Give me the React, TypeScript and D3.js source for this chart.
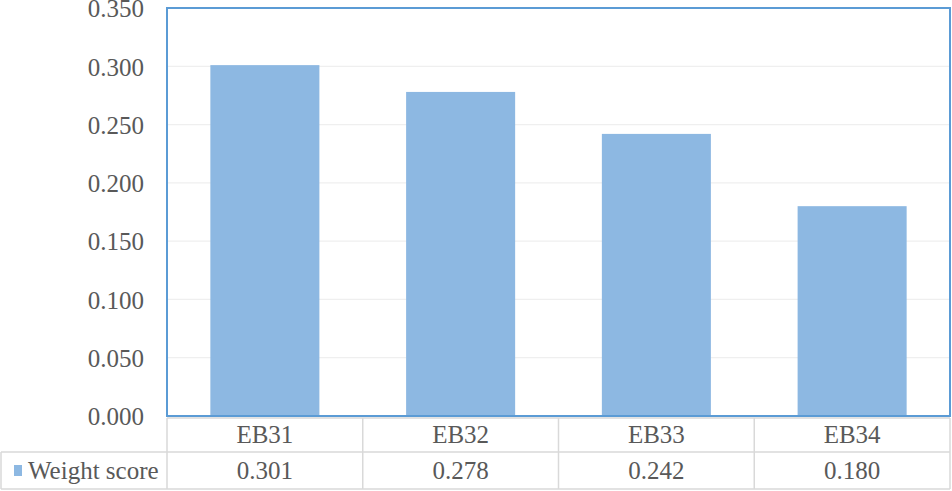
import React from 'react';
import * as d3 from 'd3';

const categories = ['EB31', 'EB32', 'EB33', 'EB34'];
const weightScore = [0.301, 0.278, 0.242, 0.18];
const yTicks = [0, 0.05, 0.1, 0.15, 0.2, 0.25, 0.3, 0.35];
const seriesName = 'Weight score';

const width = 952;
const height = 491;
const left = 167;
const right = 950;
const top = 8;
const bottom = 416;
const row1 = 418;
const row2 = 452;
const tableBottom = 489;
const serif = { fontFamily: "'Liberation Serif', 'Times New Roman', serif" };
const fontSize = 25;
const textColor = '#595959';
const lineColor = '#d9d9d9';
const barColor = '#8db8e2';
const fmt = d3.format('.3f');

const App = () => {
  const x = d3.scaleBand()
    .domain(categories)
    .range([left, right])
    .paddingInner(0.443)
    .paddingOuter(0.2215);

  // full-width bands for the data table cells
  const band = d3.scaleBand().domain(categories).range([left, right]);

  const y = d3.scaleLinear()
    .domain([0, 0.35])
    .range([bottom, top]);

  const cellCenter = (c: string) => (band(c) as number) + band.bandwidth() / 2;

  return (
    <svg width={width} height={height} style={{ position: 'absolute', left: 0, top: 0 }}>
      {/* gridlines */}
      {yTicks.slice(1).map(t => (
        <line key={t} x1={left} x2={right} y1={y(t)} y2={y(t)} stroke="#efefef" strokeWidth={1.3} />
      ))}

      {/* bars */}
      {weightScore.map((v, i) => (
        <rect key={categories[i]} x={x(categories[i])} width={x.bandwidth()} y={y(v)} height={bottom - y(v)} fill={barColor} />
      ))}

      {/* plot border */}
      <rect x={left} y={top} width={right - left} height={bottom - top} fill="none" stroke="#5b9bd5" strokeWidth={2} />

      {/* y tick labels */}
      {yTicks.map(t => (
        <text key={t} x={144} y={y(t)} dy="0.37em" textAnchor="end" fontSize={fontSize} fill={textColor} style={serif}>{fmt(t)}</text>
      ))}

      {/* data table grid */}
      <g stroke={lineColor} strokeWidth={1.5}>
        <line x1={left} x2={right} y1={row1} y2={row1} />
        <line x1={1} x2={right} y1={row2} y2={row2} />
        <line x1={1} x2={right} y1={tableBottom} y2={tableBottom} />
        <line x1={1} x2={1} y1={row2} y2={tableBottom} />
        {categories.concat(['end']).map((c, i) => (
          <line key={c} x1={left + i * band.bandwidth()} x2={left + i * band.bandwidth()} y1={row1} y2={tableBottom} />
        ))}
      </g>

      {categories.map(c => (
        <text key={c} x={cellCenter(c)} y={(row1 + row2) / 2} dy="0.33em" textAnchor="middle" fontSize={fontSize} fill={textColor} style={serif}>{c}</text>
      ))}
      {weightScore.map((v, i) => (
        <text key={categories[i]} x={cellCenter(categories[i])} y={(row2 + tableBottom) / 2} dy="0.33em" textAnchor="middle" fontSize={fontSize} fill={textColor} style={serif}>{fmt(v)}</text>
      ))}

      {/* legend key */}
      <rect x={14} y={465} width={8} height={11} fill={barColor} />
      <text x={28} y={(row2 + tableBottom) / 2} dy="0.33em" fontSize={fontSize} fill={textColor} style={serif}>{seriesName}</text>
    </svg>
  );
};

export default App;
